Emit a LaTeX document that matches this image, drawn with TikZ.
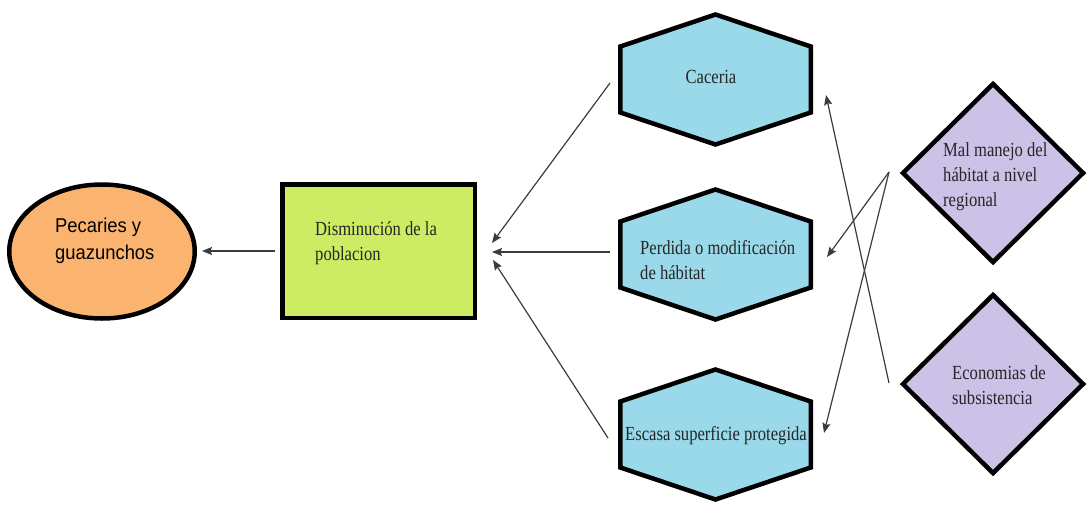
\documentclass[tikz,border=0pt]{standalone}
\usepackage{fontspec}
\setmainfont{Liberation Serif}[FakeStretch=0.83]
\newfontfamily\pecfont{Liberation Sans}[FakeStretch=0.92]
\usetikzlibrary{shapes.geometric,arrows.meta}
\definecolor{pecfill}{HTML}{FBB370}
\definecolor{disfill}{HTML}{CDEB63}
\definecolor{hexfill}{HTML}{9AD9EA}
\definecolor{diafill}{HTML}{CCC1E6}
\definecolor{arrowgray}{HTML}{3C3C3C}
\definecolor{txt}{HTML}{262626}
\tikzset{
  shapeline/.style={draw=black, line width=4.5pt},
  ar/.style={draw=arrowgray, line width=1.2pt, -{Stealth[length=10pt,width=8pt,inset=1.5pt]}},
  sertext/.style={inner sep=0pt, align=left, text=txt, font=\fontsize{20pt}{25pt}\selectfont},
  hexagonpic/.pic={
    \draw[shapeline, fill=hexfill] (0,-65) -- (95.25,-33) -- (95.25,33) -- (0,65)
      -- (-95.25,33) -- (-95.25,-33) -- cycle;
    \coordinate (-c) at (0,0);
  }
}
\begin{document}
\begin{tikzpicture}[x=1pt,y=-1pt]
\useasboundingbox (0,0) rectangle (1087,504);
% shapes
\node[shapeline, fill=pecfill, ellipse, minimum width=185.5pt, minimum height=134pt, inner sep=0pt] (pec) at (102,251.5) {};
\node[shapeline, fill=disfill, rectangle, minimum width=192.5pt, minimum height=133.5pt, inner sep=0pt] (dis) at (378.5,251) {};
\pic (cac) at (715.5,79.5) {hexagonpic};
\pic (per) at (715.5,254.5) {hexagonpic};
\pic (esc) at (715.5,434.5) {hexagonpic};
\node[shapeline, fill=diafill, diamond, minimum width=182pt, minimum height=180pt, inner sep=0pt] (mal) at (993,173) {};
\node[shapeline, fill=diafill, diamond, minimum width=182pt, minimum height=180pt, inner sep=0pt] (eco) at (993,384) {};
% texts
\node[inner sep=0pt, align=left, anchor=north west, text=black, font=\pecfont\fontsize{20pt}{27pt}\selectfont] (pectext) at (55,218) {Pecaries y\\guazunchos};
\node[sertext, anchor=north west] (distext) at (315,221) {Disminución de la\\poblacion};
\node[sertext] (cactext) at (711,77) {Caceria};
\node[sertext, anchor=north west] (pertext) at (640,240) {Perdida o modificación\\de hábitat};
\node[sertext] (esctext) at (716,436) {Escasa superficie protegida};
\node[sertext, anchor=north west] (maltext) at (943,142) {Mal manejo del\\hábitat a nivel\\regional};
\node[sertext, anchor=north west] (ecotext) at (952,365) {Economias de\\subsistencia};
% connector ends
\coordinate (disOut) at (275,251);
\coordinate (pecIn) at (202,251);
\coordinate (cacOut) at (610,83);
\coordinate (perOut) at (610,252);
\coordinate (escOut) at (608,438);
\coordinate (disInA) at (492,243);
\coordinate (disInB) at (492,252);
\coordinate (disInC) at (493,260);
\coordinate (malOut) at (889,172);
\coordinate (ecoOut) at (889,383);
\coordinate (perIn) at (827,257);
\coordinate (escIn) at (824,433);
\coordinate (cacIn) at (826,95);
% connectors
\draw[ar] (disOut) -- (pecIn);
\draw[ar] (cacOut) -- (disInA);
\draw[ar] (perOut) -- (disInB);
\draw[ar] (escOut) -- (disInC);
\draw[ar] (malOut) -- (perIn);
\draw[ar] (malOut) -- (escIn);
\draw[ar] (ecoOut) -- (cacIn);
\end{tikzpicture}
\end{document}
